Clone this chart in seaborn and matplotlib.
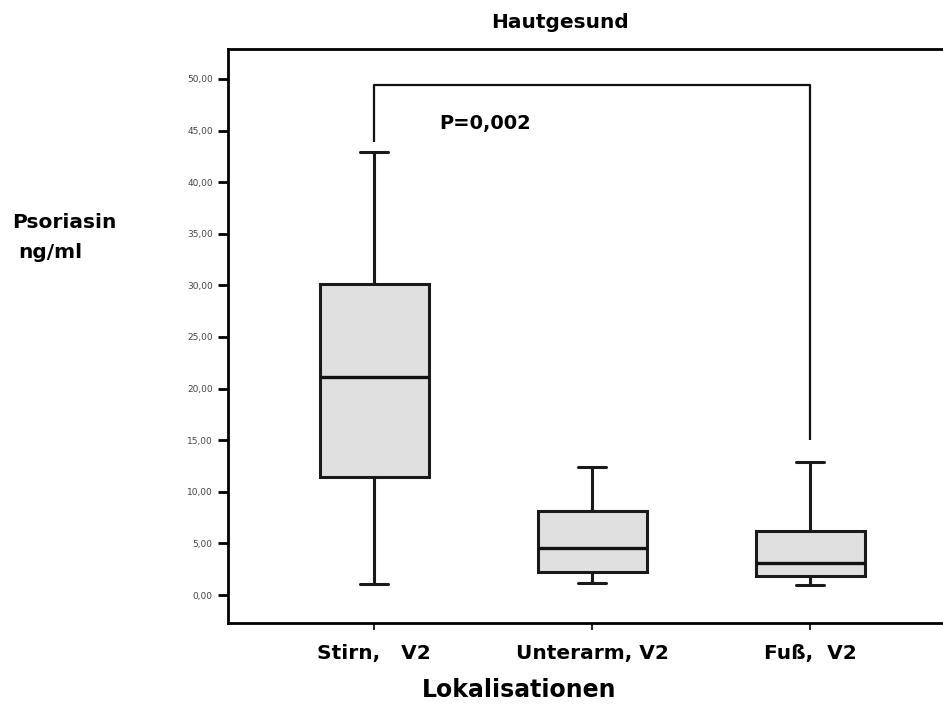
import numpy as np
import pandas as pd
import matplotlib
matplotlib.use("Agg")
import matplotlib.pyplot as plt
import seaborn as sns

# Sampling sites on the x axis
categories = ["Stirn,   V2", "Unterarm, V2", "Fuß,  V2"]
# Five-number summaries per site: lower whisker, Q1, median, Q3, upper whisker (ng/ml)
stirn = [1.1, 11.4, 21.1, 30.1, 42.9]
unterarm = [1.2, 2.2, 4.6, 8.1, 12.4]
fuss = [1.0, 1.8, 3.1, 6.2, 12.9]
yticks = [0, 5, 10, 15, 20, 25, 30, 35, 40, 45, 50]
ytick_labels = [f"{v:.2f}".replace(".", ",") for v in yticks]

# Significance bracket between Stirn and Fuß
p_label = "P=0,002"
bracket_start = 43.9
bracket_top = 49.4
bracket_end = 15.0
p_label_y = 45.7

sns.set_style("white")
plt.rcParams["font.family"] = ["DejaVu Sans"]
plt.rcParams["text.color"] = "black"

df = pd.DataFrame({
    "Lokalisation": np.repeat(categories, 5),
    "Psoriasin": stirn + unterarm + fuss,
})

fig = plt.figure(figsize=(9.43, 7.28), dpi=100)
ax = fig.add_axes([228 / 943, 1 - 623 / 728, 1 - 228 / 943, (623 - 49) / 728])

sns.boxplot(
    data=df, x="Lokalisation", y="Psoriasin", order=categories, ax=ax,
    width=0.5, whis=(0, 100), showfliers=False, color="#e0e0e0",
    saturation=1, linecolor="#1a1a1a", linewidth=2.2,
    medianprops={"linewidth": 2.4, "color": "#111111"},
    capwidths=0.125,
)

# Bracket with p-value
ax.plot([0, 0, 2, 2], [bracket_start, bracket_top, bracket_top, bracket_end],
        color="#111111", linewidth=1.6, solid_capstyle="butt")
ax.text(0.3, p_label_y, p_label, ha="left", va="center",
        fontsize=14, fontweight="heavy", color="black")

ax.set_xlim(-0.67, 2.61)
ax.set_ylim(-2.71, 52.9)
ax.set_yticks(yticks)
ax.set_yticklabels(ytick_labels, fontsize=6.5, color="#444444")
ax.set_xticks(range(len(categories)))
ax.set_xticklabels(categories, fontsize=14.5, fontweight="bold", color="black")
ax.set_xlabel("")
ax.set_ylabel("")

ax.tick_params(axis="y", direction="out", length=7, width=2, color="black", pad=4, left=True)
ax.tick_params(axis="x", direction="out", length=5, width=1.2, color="black", pad=10, bottom=True)
for side in ["left", "top", "bottom"]:
    ax.spines[side].set_visible(True)
    ax.spines[side].set_linewidth(2)
    ax.spines[side].set_color("black")
ax.spines["right"].set_visible(False)

fig.text(560 / 943, 1 - 22 / 728, "Hautgesund", ha="center", va="center",
         fontsize=14.5, fontweight="bold", color="black")
fig.text(12 / 943, 1 - 223 / 728, "Psoriasin", ha="left", va="center",
         fontsize=14.5, fontweight="bold", color="black")
fig.text(18 / 943, 1 - 253 / 728, "ng/ml", ha="left", va="center",
         fontsize=14.5, fontweight="bold", color="black")
fig.text(519 / 943, 1 - 690 / 728, "Lokalisationen", ha="center", va="center",
         fontsize=17, fontweight="bold", color="black")

fig.savefig("out.png", dpi=100, facecolor="white")
